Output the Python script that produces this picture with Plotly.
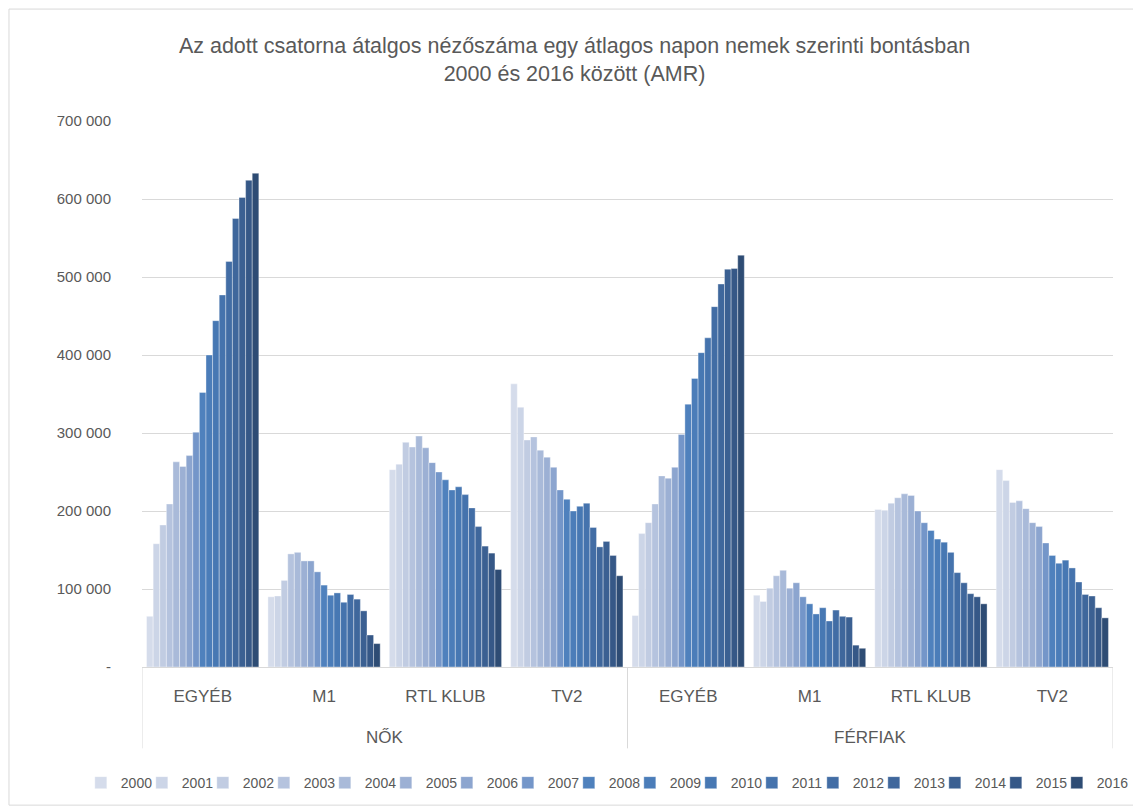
import plotly.graph_objects as go

years = [str(y) for y in range(2000, 2017)]
genders = ["NŐK", "FÉRFIAK"]
channels = ["EGYÉB", "M1", "RTL KLUB", "TV2"]

# values per group, one value per year 2000..2016
nok_egyeb = [65000, 158000, 182000, 209000, 263000, 257000, 271000, 301000, 352000, 400000,
             444000, 477000, 520000, 575000, 602000, 624000, 633000]
nok_m1 = [90000, 91000, 111000, 145000, 147000, 136000, 136000, 122000, 105000, 92000,
          95000, 83000, 93000, 87000, 72000, 41000, 30000]
nok_rtl = [253000, 260000, 288000, 282000, 296000, 281000, 262000, 250000, 240000, 227000,
           231000, 221000, 204000, 180000, 155000, 146000, 125000]
nok_tv2 = [363000, 333000, 291000, 295000, 278000, 269000, 256000, 227000, 215000, 200000,
           206000, 210000, 179000, 154000, 161000, 143000, 117000]
ferfi_egyeb = [66000, 171000, 185000, 209000, 245000, 242000, 256000, 298000, 337000, 370000,
               403000, 422000, 462000, 491000, 510000, 511000, 528000]
ferfi_m1 = [92000, 84000, 101000, 117000, 124000, 101000, 108000, 90000, 81000, 68000,
            76000, 59000, 73000, 65000, 64000, 28000, 24000]
ferfi_rtl = [202000, 201000, 210000, 217000, 222000, 220000, 200000, 185000, 175000, 164000,
             160000, 147000, 121000, 108000, 94000, 90000, 81000]
ferfi_tv2 = [253000, 239000, 211000, 213000, 203000, 185000, 180000, 159000, 143000, 133000,
             137000, 127000, 109000, 93000, 91000, 76000, 63000]

groups = [nok_egyeb, nok_m1, nok_rtl, nok_tv2, ferfi_egyeb, ferfi_m1, ferfi_rtl, ferfi_tv2]

colors = ["#D5DCEB", "#CCD5E7", "#C1CCE2", "#B5C3DE", "#A9BAD9", "#9CB0D4", "#8CA5CF",
          "#7496C9", "#4F81BD", "#4B7DB9", "#4778B3", "#4573AD", "#426DA5", "#3F679C",
          "#3B6092", "#365887", "#2E4C74"]

tick_vals = [0, 100000, 200000, 300000, 400000, 500000, 600000, 700000]
tick_text = ["-", "100 000", "200 000", "300 000", "400 000", "500 000", "600 000", "700 000"]

n_groups = len(genders) * len(channels)
x_pos = list(range(n_groups))
x_text = channels * len(genders)

fig = go.Figure()
for i, yr in enumerate(years):
    fig.add_trace(go.Bar(
        x=x_pos,
        y=[grp[i] for grp in groups],
        name=yr,
        marker=dict(color=colors[i], line=dict(color="rgba(255,255,255,0.6)", width=0.6)),
    ))

# empty legend spacer so that the last legend label is not clipped
fig.add_trace(go.Scatter(x=[None], y=[None], mode="markers", name=" ",
                         marker=dict(color="rgba(0,0,0,0)", size=1),
                         hoverinfo="skip"))

font_family = "Liberation Sans, Arial"
grey = "#595959"
line_grey = "#D9D9D9"

# outer category labels and dividers
annotations = []
shapes = []
n_ch = len(channels)
for gi, g in enumerate(genders):
    annotations.append(dict(
        x=gi * n_ch + (n_ch - 1) / 2, xref="x", y=-0.130, yref="paper",
        text=g, showarrow=False, xanchor="center", yanchor="middle",
        font=dict(family=font_family, size=17, color=grey),
    ))
for b in range(len(genders) + 1):
    shapes.append(dict(type="line", xref="x", yref="paper",
                       x0=b * n_ch - 0.5, x1=b * n_ch - 0.5, y0=0, y1=-0.149,
                       line=dict(color=line_grey, width=1)))
shapes.append(dict(type="rect", xref="paper", yref="paper",
                   x0=-0.137, x1=1.0268, y0=-0.253, y1=1.205,
                   line=dict(color=line_grey, width=1), fillcolor="rgba(0,0,0,0)", layer="below"))

fig.update_layout(
    width=1133, height=804,
    paper_bgcolor="white", plot_bgcolor="white",
    barmode="group", bargap=0.075, bargroupgap=0.0,
    margin=dict(l=134, r=28, t=113, b=145, autoexpand=False),
    title=dict(
        text="Az adott csatorna átalgos nézőszáma egy átlagos napon nemek szerinti bontásban<br>2000 és 2016 között (AMR)",
        x=0.5, xref="container", xanchor="center", y=0.944, yref="container", yanchor="middle",
        font=dict(family=font_family, size=21.5, color=grey),
    ),
    font=dict(family=font_family, size=15, color=grey),
    showlegend=True,
    legend=dict(
        orientation="h", x=-0.063, xref="paper", xanchor="left", y=-0.2125, yanchor="middle",
        font=dict(family=font_family, size=14, color=grey),
        entrywidth=16, entrywidthmode="pixels", itemwidth=30,
        traceorder="normal", bgcolor="rgba(0,0,0,0)",
    ),
    yaxis=dict(
        range=[0, 700000], tickvals=tick_vals, ticktext=tick_text,
        showgrid=True, gridcolor=line_grey, gridwidth=1,
        zeroline=False, showline=False, ticks="", ticklabelstandoff=30,
        tickfont=dict(family=font_family, size=15, color=grey),
    ),
    xaxis=dict(
        range=[-0.5, n_groups - 0.5], tickvals=x_pos, ticktext=x_text,
        showgrid=False, zeroline=False,
        showline=True, linecolor=line_grey, linewidth=1,
        ticks="", ticklabelstandoff=14,
        tickfont=dict(family=font_family, size=17, color=grey),
    ),
    annotations=annotations,
    shapes=shapes,
)

fig.write_html("out.html")
